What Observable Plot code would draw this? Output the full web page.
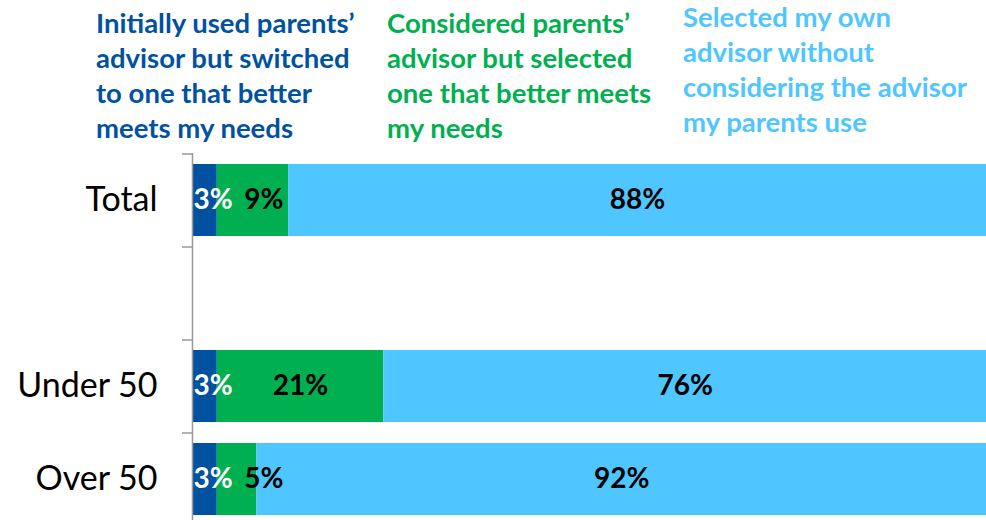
<!DOCTYPE html>
<html>
<head>
<meta charset="utf-8">
<script src="https://cdn.jsdelivr.net/npm/d3@7"></script>
<script src="https://cdn.jsdelivr.net/npm/@observablehq/plot@0.6"></script>
<style>
  html, body { margin: 0; padding: 0; background: #fff; overflow: hidden; }
  #wrap { position: relative; width: 986px; height: 520px; font-family: Lato, "Open Sans", sans-serif; }
  #legend { position: relative; height: 150px; }
  .lg { position: absolute; font-weight: bold; font-size: 27.5px; line-height: 35px; white-space: pre; }
  #chart svg { display: block; }
</style>
</head>
<body>
<div id="wrap">
  <div id="legend"></div>
  <div id="chart"></div>
</div>
<script>
const categories = ["Total", "", "Under 50", "Over 50"];
const seriesNames = [
  "Initially used parents’\nadvisor but switched\nto one that better\nmeets my needs",
  "Considered parents’\nadvisor but selected\none that better meets\nmy needs",
  "Selected my own\nadvisor without\nconsidering the advisor\nmy parents use"
];
const seriesColors = ["#0052A1", "#00B050", "#4FC6FF"];
const labelColors = ["#ffffff", "#000000", "#000000"];
const switchedValues  = [3, null, 3, 3];
const consideredValues = [9, null, 21, 5];
const ownValues = [88, null, 76, 92];

const valueSets = [switchedValues, consideredValues, ownValues];

// build long table with cumulative extents
const rows = [];
categories.forEach((cat, i) => {
  let acc = 0;
  valueSets.forEach((vals, s) => {
    const v = vals[i];
    if (v == null) return;
    rows.push({cat, series: s, value: v, x1: acc, x2: acc + v, mid: acc + v / 2});
    acc += v;
  });
});

// legend
const legend = document.getElementById("legend");
const legendLeft = [96, 387, 683];
const legendTop = [5, 5, -1];
seriesNames.forEach((name, s) => {
  const d = document.createElement("div");
  d.className = "lg";
  d.style.left = legendLeft[s] + "px";
  d.style.top = legendTop[s] + "px";
  d.style.color = seriesColors[s];
  d.textContent = name;
  legend.appendChild(d);
});

const W = 986;
const ML = 193;
const tickLen = 10 * 100 / (W - ML);

const first = rows.filter(d => d.series === 0);
const others = rows.filter(d => d.series > 0);
// a narrow second segment's label is pushed right, clear of the first label
const isCrowded = d => d.series === 1 && d.value < 10;
const crowded = others.filter(isCrowded);
const roomy = others.filter(d => !isCrowded(d));

const labelStyle = {fontSize: 28, fontWeight: "bold"};

const plot = Plot.plot({
  width: W,
  height: 375,
  marginLeft: ML,
  marginRight: 0,
  marginTop: 3,
  marginBottom: 0,
  style: {fontFamily: "Lato, 'Open Sans', sans-serif", background: "#fff", overflow: "visible"},
  x: {domain: [0, 100], axis: null},
  y: {domain: categories, paddingInner: 0.23, paddingOuter: 0.115, label: null},
  marks: [
    Plot.barX(rows, {x1: "x1", x2: "x2", y: "cat", fill: d => seriesColors[d.series]}),
    Plot.ruleX([0], {stroke: "#999", strokeWidth: 1.5, dx: -1}),
    Plot.ruleY(categories, {y: d => d, x1: -tickLen, x2: 0, dx: -1, dy: -93 / 2, stroke: "#999", strokeWidth: 1.5}),
    Plot.axisY({tickSize: 0, tickPadding: 36, fontSize: 34, fill: "#000", fontWeight: "normal"}),
    Plot.text(first, {
      x: "x1", y: "cat", text: d => d.value + "%", textAnchor: "start",
      fill: labelColors[0], ...labelStyle
    }),
    Plot.text(roomy, {
      x: "mid", y: "cat", text: d => d.value + "%",
      fill: d => labelColors[d.series], ...labelStyle
    }),
    Plot.text(crowded, {
      x: "x1", y: "cat", text: d => d.value + "%", textAnchor: "start", dx: 27,
      fill: labelColors[1], ...labelStyle
    })
  ]
});
document.getElementById("chart").appendChild(plot);
</script>
</body>
</html>
